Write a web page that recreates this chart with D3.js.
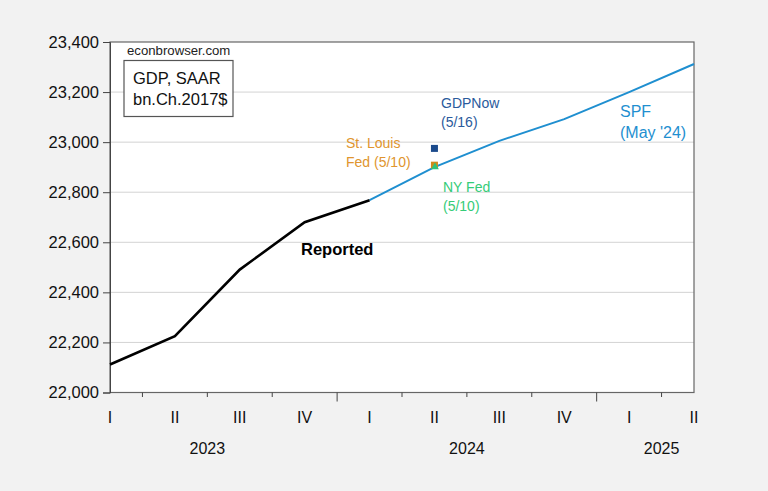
<!DOCTYPE html>
<html><head><meta charset="utf-8">
<script src="https://cdn.jsdelivr.net/npm/d3@7"></script>
<style>body{margin:0;background:#f2f2f2;}svg{display:block;font-family:"Liberation Sans",Arial,sans-serif;}</style>
</head><body>
<svg id="c" width="768" height="491"></svg>
<script>
const quarters = ["I","II","III","IV","I","II","III","IV","I","II"];
const years = [{label:"2023", pos:1.5},{label:"2024", pos:5.5},{label:"2025", pos:8.5}];
const reported = [22112, 22225, 22491, 22680, 22768];           // 2023Q1..2024Q1
const spf = [22768, 22900, 23005, 23092, 23200, 23312];          // 2024Q1..2025Q2
const spfStart = 4;
const gdpNow = 22975, stLouis = 22908, nyFed = 22903;             // 2024Q2 nowcasts
const nowIdx = 5;
const yTicks = [22000,22200,22400,22600,22800,23000,23200,23400];

const svg = d3.select("#c");
const L=110, R=694, T=42, B=392.5;
const x = d3.scaleLinear().domain([0,9]).range([L,R]);
const y = d3.scaleLinear().domain([22000,23400]).range([B,T]);

svg.append("rect").attr("x",L).attr("y",T).attr("width",R-L).attr("height",B-T).attr("fill","#fff");
// grid
svg.append("g").selectAll("line").data(yTicks.slice(1,-1)).join("line")
  .attr("x1",L).attr("x2",R).attr("y1",d=>y(d)).attr("y2",d=>y(d))
  .attr("stroke","#d3d3d3").attr("stroke-width",1);
// frame
svg.append("rect").attr("x",L).attr("y",T).attr("width",R-L).attr("height",B-T)
  .attr("fill","none").attr("stroke","#666").attr("stroke-width",1.2);

// y axis
const ya = d3.axisLeft(y).tickValues(yTicks).tickFormat(d3.format(",")).tickSize(7).tickPadding(4);
const yg = svg.append("g").attr("transform",`translate(${L},0)`).call(ya);
yg.select(".domain").attr("stroke","#444");
yg.selectAll(".tick line").attr("stroke","#444");
yg.selectAll("text").attr("font-size","16.5px").attr("fill","#111").attr("font-family","Liberation Sans, Arial, sans-serif");

// x ticks (between quarters)
const half = d3.range(0,9).map(i=>i+0.5);
svg.append("g").selectAll("line").data(half).join("line")
  .attr("x1",d=>x(d)).attr("x2",d=>x(d)).attr("y1",B).attr("y2",d=>(d===3.5||d===7.5)?B+9:B+4.5)
  .attr("stroke","#444").attr("stroke-width",1);
svg.append("g").selectAll("text").data(quarters).join("text")
  .attr("x",(d,i)=>x(i)).attr("y",423).attr("text-anchor","middle")
  .attr("font-size","16px").attr("fill","#111").text(d=>d);
svg.append("g").selectAll("text").data(years).join("text")
  .attr("x",d=>x(d.pos)).attr("y",454).attr("text-anchor","middle")
  .attr("font-size","16px").attr("fill","#111").text(d=>d.label);

const line = d3.line().x(d=>x(d[0])).y(d=>y(d[1]));
svg.append("path").datum(spf.map((v,i)=>[spfStart+i,v])).attr("d",line)
  .attr("fill","none").attr("stroke","#1f8fd0").attr("stroke-width",2);
svg.append("path").datum(reported.map((v,i)=>[i,v])).attr("d",line)
  .attr("fill","none").attr("stroke","#000").attr("stroke-width",2.6);

// nowcast points
svg.append("rect").attr("x",x(nowIdx)-3.5).attr("y",y(gdpNow)-3.5).attr("width",7).attr("height",7).attr("fill","#1b4a8c");
svg.append("rect").attr("x",x(nowIdx)-3.5).attr("y",y(stLouis)-3.5).attr("width",7).attr("height",7).attr("fill","#d08a1a");
svg.append("path").attr("d",d3.symbol(d3.symbolTriangle,26)()).attr("transform",`translate(${x(nowIdx)+0.5},${y(nyFed)+0.5})`).attr("fill","#2ec27a");

// annotations
function txt(xp,yp,s,col,size,weight){svg.append("text").attr("x",xp).attr("y",yp).attr("font-size",size).attr("fill",col).attr("font-weight",weight||"normal").text(s);}
txt(127,55,"econbrowser.com","#222","13.2px");
svg.append("rect").attr("x",124).attr("y",60.5).attr("width",109).attr("height",56).attr("fill","#fff").attr("stroke","#555").attr("stroke-width",1.2);
txt(133,84,"GDP, SAAR","#111","16.5px");
txt(133,105,"bn.Ch.2017$","#111","16.5px");
txt(301,255,"Reported","#000","16.5px","bold");
txt(441,108,"GDPNow","#2a5a9c","14px");
txt(441,127,"(5/16)","#2a5a9c","14px");
txt(346,148,"St. Louis","#e0952e","14px");
txt(346,167,"Fed (5/10)","#e0952e","14px");
txt(443,192,"NY Fed","#35cc78","14px");
txt(443,211,"(5/10)","#35cc78","14px");
txt(620,117,"SPF","#1f8fd0","16px");
txt(620,138,"(May '24)","#1f8fd0","16px");
</script>
</body></html>
